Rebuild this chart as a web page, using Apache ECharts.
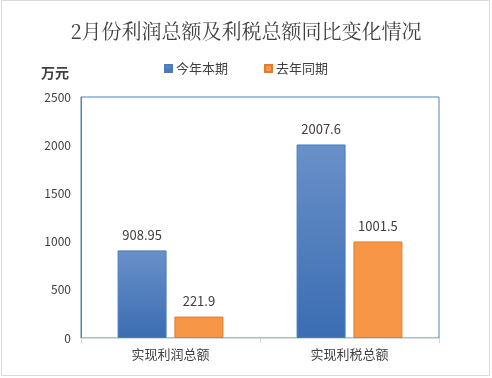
<!DOCTYPE html>
<html><head><meta charset="utf-8">
<script src="https://cdn.jsdelivr.net/npm/echarts@6/dist/echarts.min.js"></script>
<style>html,body{margin:0;padding:0;background:#fff}#c{width:492px;height:378px}</style>
</head><body><div id="c"></div>
<script>
const title = '2月份利润总额及利税总额同比变化情况';
const unit = '万元';
const categories = ['实现利润总额', '实现利税总额'];
const seriesNames = ['今年本期', '去年同期'];
const thisYear = [908.95, 2007.6];
const lastYear = [221.9, 1001.5];
const yTicks = [0, 500, 1000, 1500, 2000, 2500];

const font = '"Microsoft YaHei","Noto Sans CJK SC",sans-serif';
const chart = echarts.init(document.getElementById('c'));
chart.setOption({
  animation: false,
  title: {
    text: title, left: 'center', top: 16,
    textStyle: {fontFamily: '"Noto Serif CJK SC","Noto Sans CJK SC",serif', fontSize: 20, fontWeight: 'normal', color: '#404040'}
  },
  legend: {
    top: 57, left: 'center', itemGap: 36, itemWidth: 7, itemHeight: 7, icon: 'rect',
    textStyle: {fontFamily: font, fontSize: 13, color: '#404040', padding: [0,0,0,-1]},
    data: seriesNames
  },
  graphic: [
    {type: 'rect', shape: {x: 1.5, y: 0.5, width: 488, height: 375}, style: {fill: 'none', stroke: '#d9d9d9', lineWidth: 1}, silent: true},
    {type: 'text', left: 41, top: 66, style: {text: unit, font: 'bold 14px ' + font, fill: '#404040'}}
  ],
  grid: {left: 81, right: 53, top: 97, bottom: 40, show: true, borderColor: '#4f81bd', borderWidth: 1, backgroundColor: 'transparent'},
  xAxis: {
    type: 'category', data: categories,
    axisLine: {lineStyle: {color: '#d9d9d9'}},
    axisTick: {show: true, length: 5, lineStyle: {color: '#d9d9d9'}},
    axisLabel: {fontFamily: font, fontSize: 13, color: '#404040', margin: 10}
  },
  yAxis: {
    type: 'value', min: yTicks[0], max: yTicks[yTicks.length-1], interval: 500,
    splitLine: {show: false},
    axisLine: {show: true, lineStyle: {color: '#4f81bd'}},
    axisTick: {show: false},
    axisLabel: {fontFamily: font, fontSize: 12, color: '#404040', margin: 10, formatter: v => String(v)}
  },
  series: [
    {
      name: seriesNames[0], type: 'bar', data: thisYear, barWidth: 49, barGap: '16%',
      itemStyle: {
        color: new echarts.graphic.LinearGradient(0,0,0,1,[{offset:0,color:'#6a90c9'},{offset:1,color:'#3a6db2'}]),
        borderColor: '#4a7ebb', borderWidth: 1
      },
      label: {show: true, position: 'top', distance: 9, fontFamily: font, fontSize: 13, color: '#404040'}
    },
    {
      name: seriesNames[1], type: 'bar', data: lastYear, barWidth: 49,
      itemStyle: {color: '#f79646', borderColor: '#e07b30', borderWidth: 1},
      label: {show: true, position: 'top', distance: 9, fontFamily: font, fontSize: 13, color: '#404040'}
    }
  ],
  color: ['#4a7ebb', '#f79646']
});
</script></body></html>
